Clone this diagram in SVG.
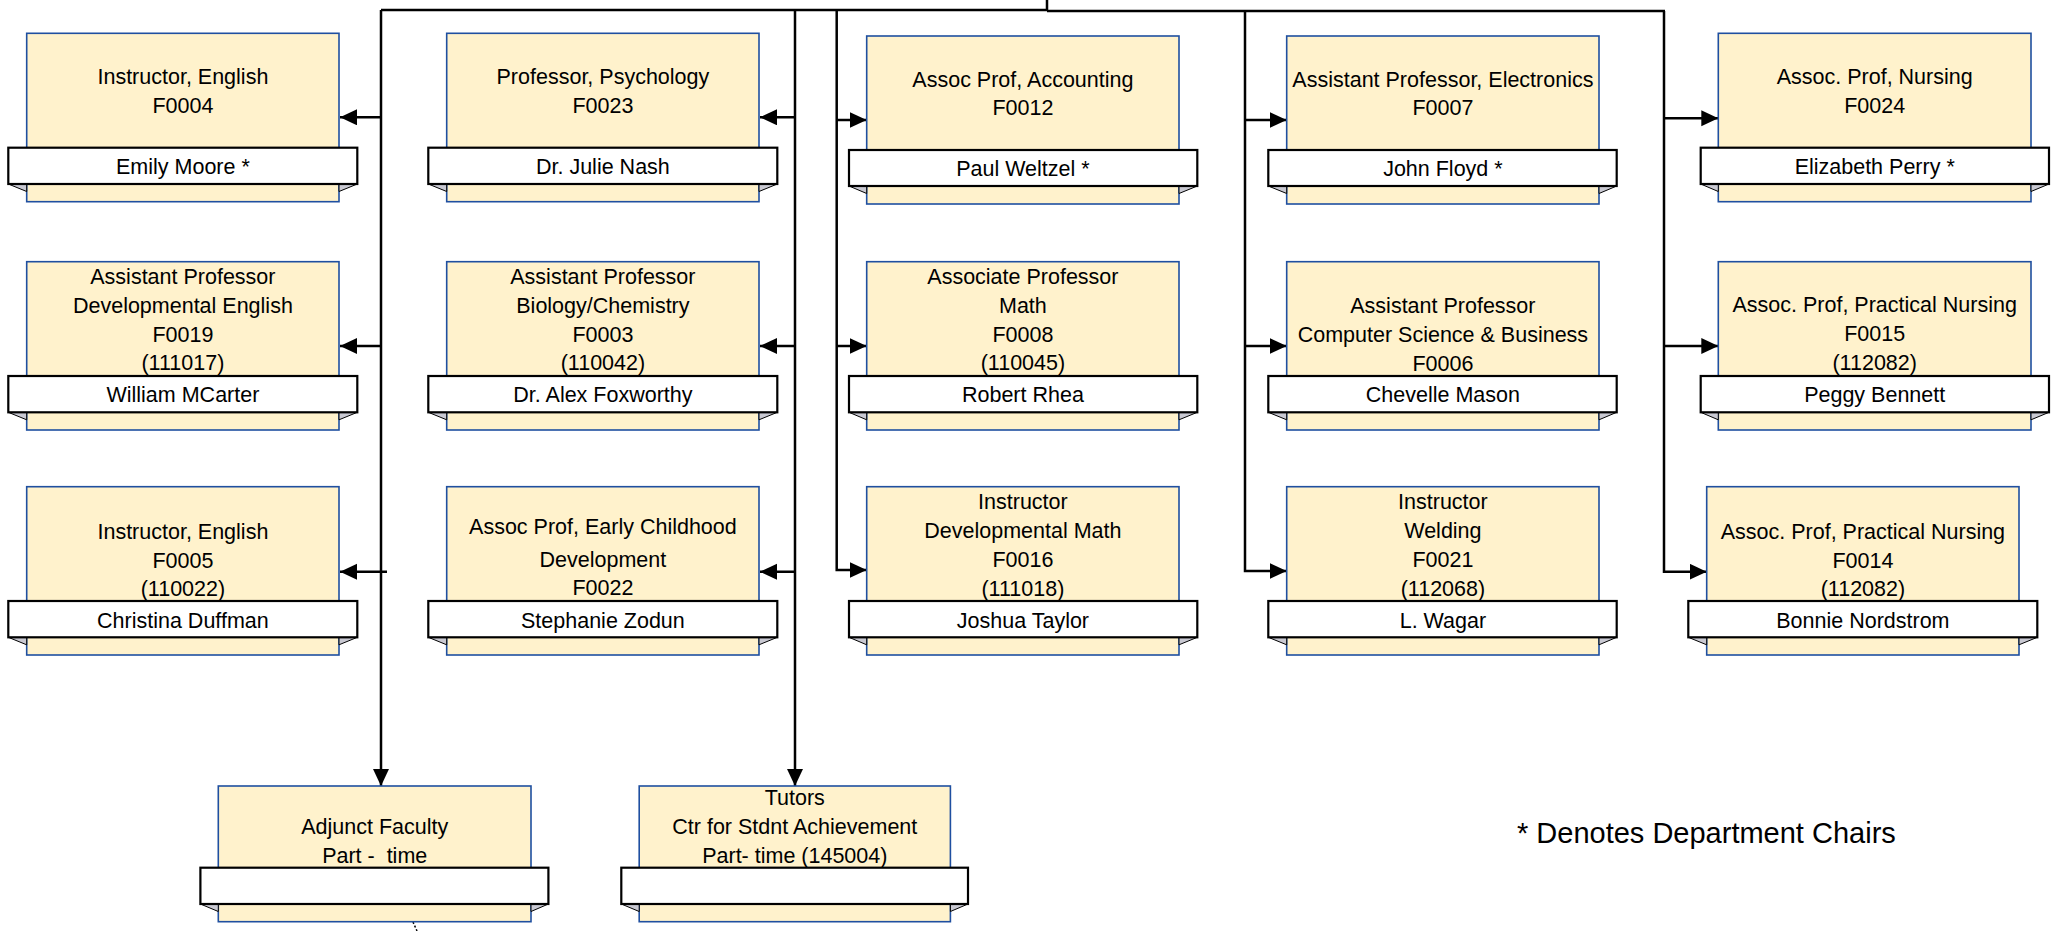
<svg xmlns="http://www.w3.org/2000/svg" width="2059" height="931" viewBox="0 0 2059 931">
<style>
.box{fill:#FFF2CC;stroke:#1F4FA0;stroke-width:1.6}
.bar{fill:#FFFFFF;stroke:#000;stroke-width:2.2}
.fold{fill:#C9C9D2;stroke:#000;stroke-width:1}
.t{font-family:"Liberation Sans",Arial,sans-serif;font-size:21.5px;text-anchor:middle;fill:#000;white-space:pre}
.lg{font-family:"Liberation Sans",Arial,sans-serif;font-size:29px;fill:#000}
.conn{stroke:#000;stroke-width:2.5;fill:none}
.arr{marker-end:url(#ah)}
</style>
<defs>
<marker id="ah" markerUnits="userSpaceOnUse" markerWidth="18" markerHeight="18" refX="17" refY="8" orient="auto"><path d="M0,0 L17,8 L0,16 z" fill="#000"/></marker>
</defs>
<rect width="2059" height="931" fill="#fff"/>

<g id="connectors">
<path class="conn" d="M381,10 H1047 M1047,0 V11 M1047,11 H1665"/>
<path class="conn arr" d="M381,10 V786"/>
<path class="conn arr" d="M381,117.3 H340"/>
<path class="conn arr" d="M381,346 H340"/>
<path class="conn arr" d="M387,571.7 H340"/>
<path class="conn arr" d="M795,10 V786"/>
<path class="conn arr" d="M795,117.3 H760"/>
<path class="conn arr" d="M795,346 H760"/>
<path class="conn arr" d="M795,571.7 H760"/>
<path class="conn arr" d="M836.7,11 V570 H866.7"/>
<path class="conn arr" d="M836.7,120 H866.7"/>
<path class="conn arr" d="M836.7,346 H866.7"/>
<path class="conn arr" d="M1245,11 V571 H1286.7"/>
<path class="conn arr" d="M1245,120 H1286.7"/>
<path class="conn arr" d="M1245,346 H1286.7"/>
<path class="conn arr" d="M1664,11 V571.7 H1706.7"/>
<path class="conn arr" d="M1664,118.3 H1718.3"/>
<path class="conn arr" d="M1664,346 H1718.3"/>
<path d="M413,922 L417,931" stroke="#000" stroke-width="1.5" stroke-dasharray="2,2" fill="none"/>
</g>

<!-- Row 1 -->
<g id="n-f0004">
<rect class="box" x="26.7" y="33.3" width="312.3" height="168.4"/>
<polygon class="fold" points="8.3,184 26.7,184 26.7,191.5"/>
<polygon class="fold" points="357.3,184 339,184 339,191.5"/>
<rect class="bar" x="8.3" y="147.7" width="349" height="36.3"/>
<text class="t" x="182.9" y="84.2">Instructor, English</text>
<text class="t" x="182.9" y="113.3">F0004</text>
<text class="t" x="182.9" y="174">Emily Moore *</text>
</g>
<g id="n-f0023">
<rect class="box" x="446.7" y="33.3" width="312.3" height="168.4"/>
<polygon class="fold" points="428.3,184 446.7,184 446.7,191.5"/>
<polygon class="fold" points="777.3,184 759,184 759,191.5"/>
<rect class="bar" x="428.3" y="147.7" width="349" height="36.3"/>
<text class="t" x="602.9" y="84.2">Professor, Psychology</text>
<text class="t" x="602.9" y="112.5">F0023</text>
<text class="t" x="602.9" y="174">Dr. Julie Nash</text>
</g>
<g id="n-f0012">
<rect class="box" x="866.7" y="36" width="312.3" height="168"/>
<polygon class="fold" points="849,186 866.7,186 866.7,193.5"/>
<polygon class="fold" points="1197.3,186 1179,186 1179,193.5"/>
<rect class="bar" x="849" y="150" width="348.3" height="36"/>
<text class="t" x="1022.9" y="86.5">Assoc Prof, Accounting</text>
<text class="t" x="1022.9" y="114.8">F0012</text>
<text class="t" x="1022.9" y="176">Paul Weltzel *</text>
</g>
<g id="n-f0007">
<rect class="box" x="1286.7" y="36" width="312.3" height="168"/>
<polygon class="fold" points="1268.3,186 1286.7,186 1286.7,193.5"/>
<polygon class="fold" points="1616.7,186 1599,186 1599,193.5"/>
<rect class="bar" x="1268.3" y="150" width="348.4" height="36"/>
<text class="t" x="1442.9" y="86.5">Assistant Professor, Electronics</text>
<text class="t" x="1442.9" y="114.8">F0007</text>
<text class="t" x="1442.9" y="176">John Floyd *</text>
</g>
<g id="n-f0024">
<rect class="box" x="1718.3" y="33.3" width="312.7" height="168.4"/>
<polygon class="fold" points="1700.7,184 1718.3,184 1718.3,191.5"/>
<polygon class="fold" points="2049,184 2031,184 2031,191.5"/>
<rect class="bar" x="1700.7" y="147.7" width="348.3" height="36.3"/>
<text class="t" x="1874.7" y="84.2">Assoc. Prof, Nursing</text>
<text class="t" x="1874.7" y="113.3">F0024</text>
<text class="t" x="1874.7" y="174">Elizabeth Perry *</text>
</g>

<!-- Row 2 -->
<g id="n-f0019">
<rect class="box" x="26.7" y="261.7" width="312.3" height="168.3"/>
<polygon class="fold" points="8.3,412.3 26.7,412.3 26.7,419.8"/>
<polygon class="fold" points="357.3,412.3 339,412.3 339,419.8"/>
<rect class="bar" x="8.3" y="376" width="349" height="36.3"/>
<text class="t" x="182.9" y="283.5">Assistant Professor</text>
<text class="t" x="182.9" y="312.5">Developmental English</text>
<text class="t" x="182.9" y="341.5">F0019</text>
<text class="t" x="182.9" y="370.2">(111017)</text>
<text class="t" x="182.9" y="401.7">William MCarter</text>
</g>
<g id="n-f0003">
<rect class="box" x="446.7" y="261.7" width="312.3" height="168.3"/>
<polygon class="fold" points="428.3,412.3 446.7,412.3 446.7,419.8"/>
<polygon class="fold" points="777.3,412.3 759,412.3 759,419.8"/>
<rect class="bar" x="428.3" y="376" width="349" height="36.3"/>
<text class="t" x="602.9" y="283.5">Assistant Professor</text>
<text class="t" x="602.9" y="312.5">Biology/Chemistry</text>
<text class="t" x="602.9" y="341.5">F0003</text>
<text class="t" x="602.9" y="370.2">(110042)</text>
<text class="t" x="602.9" y="401.7">Dr. Alex Foxworthy</text>
</g>
<g id="n-f0008">
<rect class="box" x="866.7" y="261.7" width="312.3" height="168.3"/>
<polygon class="fold" points="849,412.3 866.7,412.3 866.7,419.8"/>
<polygon class="fold" points="1197.3,412.3 1179,412.3 1179,419.8"/>
<rect class="bar" x="849" y="376" width="348.3" height="36.3"/>
<text class="t" x="1022.9" y="283.5">Associate Professor</text>
<text class="t" x="1022.9" y="312.5">Math</text>
<text class="t" x="1022.9" y="341.5">F0008</text>
<text class="t" x="1022.9" y="370.2">(110045)</text>
<text class="t" x="1022.9" y="401.7">Robert Rhea</text>
</g>
<g id="n-f0006">
<rect class="box" x="1286.7" y="261.7" width="312.3" height="168.3"/>
<polygon class="fold" points="1268.3,412.3 1286.7,412.3 1286.7,419.8"/>
<polygon class="fold" points="1616.7,412.3 1599,412.3 1599,419.8"/>
<rect class="bar" x="1268.3" y="376" width="348.4" height="36.3"/>
<text class="t" x="1442.9" y="312.5">Assistant Professor</text>
<text class="t" x="1442.9" y="341.8">Computer Science &amp; Business</text>
<text class="t" x="1442.9" y="370.8">F0006</text>
<text class="t" x="1442.9" y="401.7">Chevelle Mason</text>
</g>
<g id="n-f0015">
<rect class="box" x="1718.3" y="261.7" width="312.7" height="168.3"/>
<polygon class="fold" points="1700.7,412.3 1718.3,412.3 1718.3,419.8"/>
<polygon class="fold" points="2049,412.3 2031,412.3 2031,419.8"/>
<rect class="bar" x="1700.7" y="376" width="348.3" height="36.3"/>
<text class="t" x="1874.7" y="312.1">Assoc. Prof, Practical Nursing</text>
<text class="t" x="1874.7" y="341">F0015</text>
<text class="t" x="1874.7" y="369.9">(112082)</text>
<text class="t" x="1874.7" y="401.7">Peggy Bennett</text>
</g>

<!-- Row 3 -->
<g id="n-f0005">
<rect class="box" x="26.7" y="486.7" width="312.3" height="168.3"/>
<polygon class="fold" points="8.3,637.3 26.7,637.3 26.7,644.8"/>
<polygon class="fold" points="357.3,637.3 339,637.3 339,644.8"/>
<rect class="bar" x="8.3" y="601" width="349" height="36.3"/>
<text class="t" x="182.9" y="538.5">Instructor, English</text>
<text class="t" x="182.9" y="567.5">F0005</text>
<text class="t" x="182.9" y="595.8">(110022)</text>
<text class="t" x="182.9" y="627.7">Christina Duffman</text>
</g>
<g id="n-f0022">
<rect class="box" x="446.7" y="486.7" width="312.3" height="168.3"/>
<polygon class="fold" points="428.3,637.3 446.7,637.3 446.7,644.8"/>
<polygon class="fold" points="777.3,637.3 759,637.3 759,644.8"/>
<rect class="bar" x="428.3" y="601" width="349" height="36.3"/>
<text class="t" x="602.9" y="534.3">Assoc Prof, Early Childhood</text>
<text class="t" x="602.9" y="566.7">Development</text>
<text class="t" x="602.9" y="595">F0022</text>
<text class="t" x="602.9" y="627.7">Stephanie Zodun</text>
</g>
<g id="n-f0016">
<rect class="box" x="866.7" y="486.7" width="312.3" height="168.3"/>
<polygon class="fold" points="849,637.3 866.7,637.3 866.7,644.8"/>
<polygon class="fold" points="1197.3,637.3 1179,637.3 1179,644.8"/>
<rect class="bar" x="849" y="601" width="348.3" height="36.3"/>
<text class="t" x="1022.9" y="509.1">Instructor</text>
<text class="t" x="1022.9" y="538">Developmental Math</text>
<text class="t" x="1022.9" y="566.9">F0016</text>
<text class="t" x="1022.9" y="595.8">(111018)</text>
<text class="t" x="1022.9" y="627.7">Joshua Taylor</text>
</g>
<g id="n-f0021">
<rect class="box" x="1286.7" y="486.7" width="312.3" height="168.3"/>
<polygon class="fold" points="1268.3,637.3 1286.7,637.3 1286.7,644.8"/>
<polygon class="fold" points="1616.7,637.3 1599,637.3 1599,644.8"/>
<rect class="bar" x="1268.3" y="601" width="348.4" height="36.3"/>
<text class="t" x="1442.9" y="509.1">Instructor</text>
<text class="t" x="1442.9" y="538">Welding</text>
<text class="t" x="1442.9" y="566.9">F0021</text>
<text class="t" x="1442.9" y="595.8">(112068)</text>
<text class="t" x="1442.9" y="627.7">L. Wagar</text>
</g>
<g id="n-f0014">
<rect class="box" x="1706.7" y="486.7" width="312.3" height="168.3"/>
<polygon class="fold" points="1688.3,637.3 1706.7,637.3 1706.7,644.8"/>
<polygon class="fold" points="2037.3,637.3 2019,637.3 2019,644.8"/>
<rect class="bar" x="1688.3" y="601" width="349" height="36.3"/>
<text class="t" x="1862.9" y="539.2">Assoc. Prof, Practical Nursing</text>
<text class="t" x="1862.9" y="568.2">F0014</text>
<text class="t" x="1862.9" y="595.8">(112082)</text>
<text class="t" x="1862.9" y="627.7">Bonnie Nordstrom</text>
</g>

<!-- Bottom -->
<g id="n-adjunct">
<rect class="box" x="218.3" y="786" width="312.7" height="135.7"/>
<polygon class="fold" points="200.4,904 218.3,904 218.3,911.5"/>
<polygon class="fold" points="548.4,904 531,904 531,911.5"/>
<rect class="bar" x="200.4" y="867.7" width="348" height="36.3"/>
<text class="t" x="374.7" y="834.2">Adjunct Faculty</text>
<text class="t" x="374.7" y="862.5" xml:space="preserve">Part -  time</text>
</g>
<g id="n-tutors">
<rect class="box" x="639.2" y="786" width="311.2" height="135.7"/>
<polygon class="fold" points="621.3,904 639.2,904 639.2,911.5"/>
<polygon class="fold" points="968,904 950.4,904 950.4,911.5"/>
<rect class="bar" x="621.3" y="867.7" width="346.7" height="36.3"/>
<text class="t" x="794.8" y="804.8">Tutors</text>
<text class="t" x="794.8" y="834.2">Ctr for Stdnt Achievement</text>
<text class="t" x="794.8" y="862.5">Part- time (145004)</text>
</g>

<g id="legend">
<text class="lg" x="1517" y="842.7">* Denotes Department Chairs</text>
</g>
</svg>
